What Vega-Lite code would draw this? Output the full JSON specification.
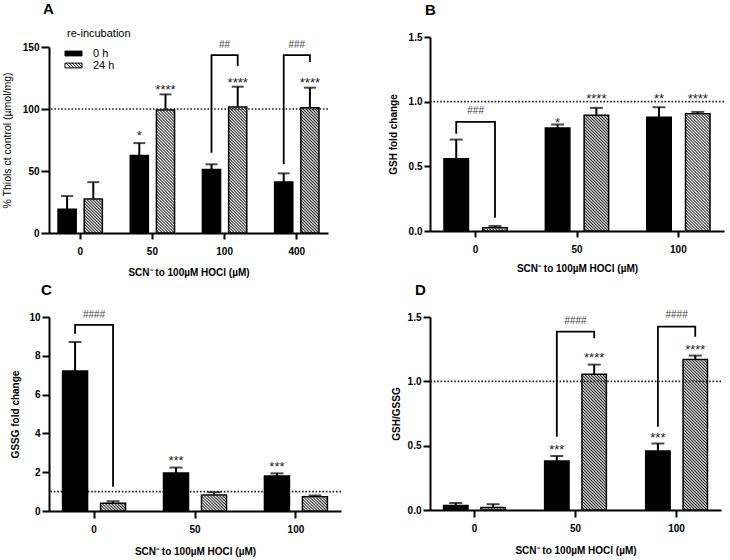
{
"$schema": "https://vega.github.io/schema/vega-lite/v6.json",
"background": "white",
"padding": {"left": 2, "top": 2, "right": 0, "bottom": 1},
"config": {
 "view": {"stroke": null},
 "font": "Liberation Sans",
 "axis": {"domainColor": "#000", "domainWidth": 2, "tickColor": "#000", "tickWidth": 2, "labelColor": "#000", "labelFont": "Liberation Sans", "labelFontWeight": "bold", "labelFontSize": 10, "titleFont": "Liberation Sans", "titleFontWeight": "bold", "titleFontSize": 10, "titleColor": "#000", "grid": false, "labelOverlap": false},
 "title": {"font": "Liberation Sans", "fontSize": 15, "fontWeight": "bold", "anchor": "start", "frame": "group", "color": "#000"},
 "bar": {"color": {"gradient": "linear", "x1": 0, "y1": 1, "x2": 0.178, "y2": -0.1295, "stops": [
{"offset":0,"color":"#222"},{"offset":0.0083,"color":"#fff"},{"offset":0.0167,"color":"#222"},{"offset":0.025,"color":"#fff"},{"offset":0.0333,"color":"#222"},{"offset":0.0417,"color":"#fff"},{"offset":0.05,"color":"#222"},{"offset":0.0583,"color":"#fff"},{"offset":0.0667,"color":"#222"},{"offset":0.075,"color":"#fff"},{"offset":0.0833,"color":"#222"},{"offset":0.0917,"color":"#fff"},
{"offset":0.1,"color":"#222"},{"offset":0.1083,"color":"#fff"},{"offset":0.1167,"color":"#222"},{"offset":0.125,"color":"#fff"},{"offset":0.1333,"color":"#222"},{"offset":0.1417,"color":"#fff"},{"offset":0.15,"color":"#222"},{"offset":0.1583,"color":"#fff"},{"offset":0.1667,"color":"#222"},{"offset":0.175,"color":"#fff"},{"offset":0.1833,"color":"#222"},{"offset":0.1917,"color":"#fff"},
{"offset":0.2,"color":"#222"},{"offset":0.2083,"color":"#fff"},{"offset":0.2167,"color":"#222"},{"offset":0.225,"color":"#fff"},{"offset":0.2333,"color":"#222"},{"offset":0.2417,"color":"#fff"},{"offset":0.25,"color":"#222"},{"offset":0.2583,"color":"#fff"},{"offset":0.2667,"color":"#222"},{"offset":0.275,"color":"#fff"},{"offset":0.2833,"color":"#222"},{"offset":0.2917,"color":"#fff"},
{"offset":0.3,"color":"#222"},{"offset":0.3083,"color":"#fff"},{"offset":0.3167,"color":"#222"},{"offset":0.325,"color":"#fff"},{"offset":0.3333,"color":"#222"},{"offset":0.3417,"color":"#fff"},{"offset":0.35,"color":"#222"},{"offset":0.3583,"color":"#fff"},{"offset":0.3667,"color":"#222"},{"offset":0.375,"color":"#fff"},{"offset":0.3833,"color":"#222"},{"offset":0.3917,"color":"#fff"},
{"offset":0.4,"color":"#222"},{"offset":0.4083,"color":"#fff"},{"offset":0.4167,"color":"#222"},{"offset":0.425,"color":"#fff"},{"offset":0.4333,"color":"#222"},{"offset":0.4417,"color":"#fff"},{"offset":0.45,"color":"#222"},{"offset":0.4583,"color":"#fff"},{"offset":0.4667,"color":"#222"},{"offset":0.475,"color":"#fff"},{"offset":0.4833,"color":"#222"},{"offset":0.4917,"color":"#fff"},
{"offset":0.5,"color":"#222"},{"offset":0.5083,"color":"#fff"},{"offset":0.5167,"color":"#222"},{"offset":0.525,"color":"#fff"},{"offset":0.5333,"color":"#222"},{"offset":0.5417,"color":"#fff"},{"offset":0.55,"color":"#222"},{"offset":0.5583,"color":"#fff"},{"offset":0.5667,"color":"#222"},{"offset":0.575,"color":"#fff"},{"offset":0.5833,"color":"#222"},{"offset":0.5917,"color":"#fff"},
{"offset":0.6,"color":"#222"},{"offset":0.6083,"color":"#fff"},{"offset":0.6167,"color":"#222"},{"offset":0.625,"color":"#fff"},{"offset":0.6333,"color":"#222"},{"offset":0.6417,"color":"#fff"},{"offset":0.65,"color":"#222"},{"offset":0.6583,"color":"#fff"},{"offset":0.6667,"color":"#222"},{"offset":0.675,"color":"#fff"},{"offset":0.6833,"color":"#222"},{"offset":0.6917,"color":"#fff"},
{"offset":0.7,"color":"#222"},{"offset":0.7083,"color":"#fff"},{"offset":0.7167,"color":"#222"},{"offset":0.725,"color":"#fff"},{"offset":0.7333,"color":"#222"},{"offset":0.7417,"color":"#fff"},{"offset":0.75,"color":"#222"},{"offset":0.7583,"color":"#fff"},{"offset":0.7667,"color":"#222"},{"offset":0.775,"color":"#fff"},{"offset":0.7833,"color":"#222"},{"offset":0.7917,"color":"#fff"},
{"offset":0.8,"color":"#222"},{"offset":0.8083,"color":"#fff"},{"offset":0.8167,"color":"#222"},{"offset":0.825,"color":"#fff"},{"offset":0.8333,"color":"#222"},{"offset":0.8417,"color":"#fff"},{"offset":0.85,"color":"#222"},{"offset":0.8583,"color":"#fff"},{"offset":0.8667,"color":"#222"},{"offset":0.875,"color":"#fff"},{"offset":0.8833,"color":"#222"},{"offset":0.8917,"color":"#fff"},
{"offset":0.9,"color":"#222"},{"offset":0.9083,"color":"#fff"},{"offset":0.9167,"color":"#222"},{"offset":0.925,"color":"#fff"},{"offset":0.9333,"color":"#222"},{"offset":0.9417,"color":"#fff"},{"offset":0.95,"color":"#222"},{"offset":0.9583,"color":"#fff"},{"offset":0.9667,"color":"#222"},{"offset":0.975,"color":"#fff"},{"offset":0.9833,"color":"#222"},{"offset":0.9917,"color":"#fff"},
{"offset":1,"color":"#222"}]}}
},
"columns": 2,
"bounds": "flush",
"spacing": {"row": 84, "column": 89},
"resolve": {"scale": {"x": "independent", "y": "independent", "xOffset": "independent", "fill": "independent"}},
"concat": [
{
 "width": 279, "height": 196,
 "title": {"text": "A", "dx": -6, "offset": 11},
 "data": {"values": [
  {"dose": "0", "group": "0 h", "mean": 19.1, "upper": 29.8},
  {"dose": "0", "group": "24 h", "mean": 27.5, "upper": 41},
  {"dose": "50", "group": "0 h", "mean": 62.5, "upper": 72.5},
  {"dose": "50", "group": "24 h", "mean": 99.2, "upper": 111.8},
  {"dose": "100", "group": "0 h", "mean": 51.3, "upper": 55.4},
  {"dose": "100", "group": "24 h", "mean": 101.6, "upper": 118},
  {"dose": "400", "group": "0 h", "mean": 41.1, "upper": 48.1},
  {"dose": "400", "group": "24 h", "mean": 101, "upper": 117.2}
 ]},
 "layer": [
  {"transform": [{"filter": "datum.group === '24 h'"}],
   "mark": {"type": "bar", "fill": {"gradient": "linear", "x1": 0, "y1": 1, "x2": 0.1228, "y2": -0.0981, "stops": [
{"offset":0,"color":"#222"},{"offset":0.0083,"color":"#fff"},{"offset":0.0167,"color":"#222"},{"offset":0.025,"color":"#fff"},{"offset":0.0333,"color":"#222"},{"offset":0.0417,"color":"#fff"},{"offset":0.05,"color":"#222"},{"offset":0.0583,"color":"#fff"},{"offset":0.0667,"color":"#222"},{"offset":0.075,"color":"#fff"},{"offset":0.0833,"color":"#222"},{"offset":0.0917,"color":"#fff"},
{"offset":0.1,"color":"#222"},{"offset":0.1083,"color":"#fff"},{"offset":0.1167,"color":"#222"},{"offset":0.125,"color":"#fff"},{"offset":0.1333,"color":"#222"},{"offset":0.1417,"color":"#fff"},{"offset":0.15,"color":"#222"},{"offset":0.1583,"color":"#fff"},{"offset":0.1667,"color":"#222"},{"offset":0.175,"color":"#fff"},{"offset":0.1833,"color":"#222"},{"offset":0.1917,"color":"#fff"},
{"offset":0.2,"color":"#222"},{"offset":0.2083,"color":"#fff"},{"offset":0.2167,"color":"#222"},{"offset":0.225,"color":"#fff"},{"offset":0.2333,"color":"#222"},{"offset":0.2417,"color":"#fff"},{"offset":0.25,"color":"#222"},{"offset":0.2583,"color":"#fff"},{"offset":0.2667,"color":"#222"},{"offset":0.275,"color":"#fff"},{"offset":0.2833,"color":"#222"},{"offset":0.2917,"color":"#fff"},
{"offset":0.3,"color":"#222"},{"offset":0.3083,"color":"#fff"},{"offset":0.3167,"color":"#222"},{"offset":0.325,"color":"#fff"},{"offset":0.3333,"color":"#222"},{"offset":0.3417,"color":"#fff"},{"offset":0.35,"color":"#222"},{"offset":0.3583,"color":"#fff"},{"offset":0.3667,"color":"#222"},{"offset":0.375,"color":"#fff"},{"offset":0.3833,"color":"#222"},{"offset":0.3917,"color":"#fff"},
{"offset":0.4,"color":"#222"},{"offset":0.4083,"color":"#fff"},{"offset":0.4167,"color":"#222"},{"offset":0.425,"color":"#fff"},{"offset":0.4333,"color":"#222"},{"offset":0.4417,"color":"#fff"},{"offset":0.45,"color":"#222"},{"offset":0.4583,"color":"#fff"},{"offset":0.4667,"color":"#222"},{"offset":0.475,"color":"#fff"},{"offset":0.4833,"color":"#222"},{"offset":0.4917,"color":"#fff"},
{"offset":0.5,"color":"#222"},{"offset":0.5083,"color":"#fff"},{"offset":0.5167,"color":"#222"},{"offset":0.525,"color":"#fff"},{"offset":0.5333,"color":"#222"},{"offset":0.5417,"color":"#fff"},{"offset":0.55,"color":"#222"},{"offset":0.5583,"color":"#fff"},{"offset":0.5667,"color":"#222"},{"offset":0.575,"color":"#fff"},{"offset":0.5833,"color":"#222"},{"offset":0.5917,"color":"#fff"},
{"offset":0.6,"color":"#222"},{"offset":0.6083,"color":"#fff"},{"offset":0.6167,"color":"#222"},{"offset":0.625,"color":"#fff"},{"offset":0.6333,"color":"#222"},{"offset":0.6417,"color":"#fff"},{"offset":0.65,"color":"#222"},{"offset":0.6583,"color":"#fff"},{"offset":0.6667,"color":"#222"},{"offset":0.675,"color":"#fff"},{"offset":0.6833,"color":"#222"},{"offset":0.6917,"color":"#fff"},
{"offset":0.7,"color":"#222"},{"offset":0.7083,"color":"#fff"},{"offset":0.7167,"color":"#222"},{"offset":0.725,"color":"#fff"},{"offset":0.7333,"color":"#222"},{"offset":0.7417,"color":"#fff"},{"offset":0.75,"color":"#222"},{"offset":0.7583,"color":"#fff"},{"offset":0.7667,"color":"#222"},{"offset":0.775,"color":"#fff"},{"offset":0.7833,"color":"#222"},{"offset":0.7917,"color":"#fff"},
{"offset":0.8,"color":"#222"},{"offset":0.8083,"color":"#fff"},{"offset":0.8167,"color":"#222"},{"offset":0.825,"color":"#fff"},{"offset":0.8333,"color":"#222"},{"offset":0.8417,"color":"#fff"},{"offset":0.85,"color":"#222"},{"offset":0.8583,"color":"#fff"},{"offset":0.8667,"color":"#222"},{"offset":0.875,"color":"#fff"},{"offset":0.8833,"color":"#222"},{"offset":0.8917,"color":"#fff"},
{"offset":0.9,"color":"#222"},{"offset":0.9083,"color":"#fff"},{"offset":0.9167,"color":"#222"},{"offset":0.925,"color":"#fff"},{"offset":0.9333,"color":"#222"},{"offset":0.9417,"color":"#fff"},{"offset":0.95,"color":"#222"},{"offset":0.9583,"color":"#fff"},{"offset":0.9667,"color":"#222"},{"offset":0.975,"color":"#fff"},{"offset":0.9833,"color":"#222"},{"offset":0.9917,"color":"#fff"},
{"offset":1,"color":"#222"}]}},
   "encoding": {
    "x": {"field": "dose", "type": "nominal", "scale": {"domain": ["0", "50", "100", "400"], "paddingInner": 0.386, "paddingOuter": 0.125}, "axis": {"title": "SCN⁻ to 100µM HOCl (µM)", "labelAngle": 0, "tickSize": 6, "labelPadding": 7, "titlePadding": 11}},
    "xOffset": {"field": "group", "type": "nominal", "scale": {"domain": ["0 h", "24 h"], "paddingInner": 0.3077, "paddingOuter": 0}},
    "y": {"datum": 0, "type": "quantitative", "scale": {"domain": [0, 150], "range": [196, 10], "nice": false}, "axis": {"title": "% Thiols ct control (µmol/mg)", "values": [0, 50, 100, 150], "labelOverlap": false, "tickSize": 8, "labelPadding": 2, "titlePadding": 10, "titleFontWeight": "normal", "titleFontSize": 10.5}},
    "y2": {"datum": 130.6}
   }},
  {"transform": [{"filter": "datum.group === '24 h'"}],
   "mark": {"type": "bar", "fill": "#fff", "stroke": "#fff", "strokeWidth": 1.5},
   "encoding": {
    "x": {"field": "dose", "type": "nominal"},
    "xOffset": {"field": "group", "type": "nominal"},
    "y": {"field": "mean", "type": "quantitative"},
    "y2": {"datum": 130.6}
   }},
  {"data": {"values": [{}]},
   "mark": {"type": "rule", "strokeDash": [1.6, 1.8], "strokeWidth": 1.6, "color": "#222"},
   "encoding": {"y": {"datum": 100}}},
  {"mark": {"type": "bar", "stroke": "#000", "strokeWidth": 1.5},
   "encoding": {
    "x": {"field": "dose", "type": "nominal"},
    "xOffset": {"field": "group", "type": "nominal"},
    "y": {"field": "mean", "type": "quantitative"},
    "fill": {"field": "group", "type": "nominal", "scale": {"domain": ["0 h", "24 h"], "range": ["#000", "#fff"]},
      "legend": {"title": "re-incubation", "orient": "none", "legendX": 18, "legendY": -9, "titleFont": "Liberation Sans", "titleFontWeight": "normal", "titleFontSize": 11, "titleColor": "#000", "titlePadding": 8, "labelFont": "Liberation Sans", "labelFontSize": 11, "labelColor": "#000", "symbolType": "M-1.42,-0.4H1.42V0.4H-1.42Z M-1.2,-0.4L-0.4,0.4 M-0.7,-0.4L0.1,0.4 M-0.2,-0.4L0.6,0.4 M0.3,-0.4L1.1,0.4 M0.8,-0.4L1.42,0.22", "symbolSize": 144, "symbolStrokeColor": "#000", "symbolStrokeWidth": 1, "symbolOffset": 0, "labelOffset": 13, "rowPadding": -2}},
    "fillOpacity": {"condition": {"test": "datum.group === '24 h'", "value": 0}, "value": 1}
   }},
  {"mark": {"type": "rule", "color": "#000", "strokeWidth": 2},
   "encoding": {
    "x": {"field": "dose", "type": "nominal"},
    "xOffset": {"field": "group", "type": "nominal"},
    "y": {"field": "mean", "type": "quantitative"},
    "y2": {"field": "upper"}
   }},
  {"mark": {"type": "tick", "color": "#000", "size": 12, "thickness": 2},
   "encoding": {
    "x": {"field": "dose", "type": "nominal"},
    "xOffset": {"field": "group", "type": "nominal"},
    "y": {"field": "upper", "type": "quantitative"}
   }},
  {"data": {"values": [
    {"dose": "50", "group": "0 h", "y": 80.9, "label": "*"},
    {"dose": "50", "group": "24 h", "y": 118.5, "label": "****"},
    {"dose": "100", "group": "24 h", "y": 124, "label": "****"},
    {"dose": "400", "group": "24 h", "y": 123.4, "label": "****"}
   ]},
   "mark": {"type": "text", "fontSize": 13, "dy": 7.5, "baseline": "alphabetic", "color": "#222"},
   "encoding": {
    "x": {"field": "dose", "type": "nominal"},
    "xOffset": {"field": "group", "type": "nominal"},
    "y": {"field": "y", "type": "quantitative"},
    "text": {"field": "label"}
   }},
  {"data": {"values": [
    {"id": "a100", "dose": "100", "group": "0 h", "y": 64.8, "ord": 1},
    {"id": "a100", "dose": "100", "group": "0 h", "y": 143.5, "ord": 2},
    {"id": "a100", "dose": "100", "group": "24 h", "y": 143.5, "ord": 3},
    {"id": "a100", "dose": "100", "group": "24 h", "y": 134.7, "ord": 4},
    {"id": "a400", "dose": "400", "group": "0 h", "y": 55.4, "ord": 1},
    {"id": "a400", "dose": "400", "group": "0 h", "y": 143.5, "ord": 2},
    {"id": "a400", "dose": "400", "group": "24 h", "y": 143.5, "ord": 3},
    {"id": "a400", "dose": "400", "group": "24 h", "y": 137.9, "ord": 4}
   ]},
   "mark": {"type": "line", "color": "#000", "strokeWidth": 1.8},
   "encoding": {
    "x": {"field": "dose", "type": "nominal"},
    "xOffset": {"field": "group", "type": "nominal"},
    "y": {"field": "y", "type": "quantitative"},
    "detail": {"field": "id"},
    "order": {"field": "ord"}
   }},
  {"data": {"values": [
    {"dose": "100", "y": 151.6, "label": "##"},
    {"dose": "400", "y": 152, "label": "###"}
   ]},
   "mark": {"type": "text", "fontSize": 10, "baseline": "middle", "color": "#444"},
   "encoding": {
    "x": {"field": "dose", "type": "nominal"},
    "y": {"field": "y", "type": "quantitative"},
    "text": {"field": "label"}
   }}
 ]
},
{
 "width": 294, "height": 194,
 "title": {"text": "B", "dx": -5, "offset": 14},
 "data": {"values": [
  {"dose": "0", "group": "0 h", "mean": 0.558, "upper": 0.707},
  {"dose": "0", "group": "24 h", "mean": 0.026, "upper": 0.039},
  {"dose": "50", "group": "0 h", "mean": 0.797, "upper": 0.823},
  {"dose": "50", "group": "24 h", "mean": 0.895, "upper": 0.952},
  {"dose": "100", "group": "0 h", "mean": 0.88, "upper": 0.957},
  {"dose": "100", "group": "24 h", "mean": 0.906, "upper": 0.921}
 ]},
 "layer": [
  {"transform": [{"filter": "datum.group === '24 h'"}],
   "mark": {"type": "bar"},
   "encoding": {
    "x": {"field": "dose", "type": "nominal", "scale": {"domain": ["0", "50", "100"], "paddingInner": 0.376, "paddingOuter": 0.138}, "axis": {"title": "SCN⁻ to 100µM HOCl (µM)", "labelAngle": 0, "tickSize": 6, "labelPadding": 7, "titlePadding": 9}},
    "xOffset": {"field": "group", "type": "nominal", "scale": {"domain": ["0 h", "24 h"], "paddingInner": 0.368, "paddingOuter": 0}},
    "y": {"datum": 0, "type": "quantitative", "scale": {"domain": [0, 1.5], "nice": false}, "axis": {"title": "GSH fold change", "values": [0, 0.5, 1, 1.5], "format": ".1f", "labelOverlap": false, "tickSize": 6, "labelPadding": 2, "titlePadding": 10}},
    "y2": {"datum": 1.2023}
   }},
  {"transform": [{"filter": "datum.group === '24 h'"}],
   "mark": {"type": "bar", "fill": "#fff", "stroke": "#fff", "strokeWidth": 1.5},
   "encoding": {
    "x": {"field": "dose", "type": "nominal"},
    "xOffset": {"field": "group", "type": "nominal"},
    "y": {"field": "mean", "type": "quantitative"},
    "y2": {"datum": 1.2023}
   }},
  {"data": {"values": [{}]},
   "mark": {"type": "rule", "strokeDash": [1.6, 1.8], "strokeWidth": 1.6, "color": "#222"},
   "encoding": {"y": {"datum": 1}}},
  {"mark": {"type": "bar", "stroke": "#000", "strokeWidth": 1.5},
   "encoding": {
    "x": {"field": "dose", "type": "nominal"},
    "xOffset": {"field": "group", "type": "nominal"},
    "y": {"field": "mean", "type": "quantitative"},
    "fill": {"field": "group", "type": "nominal", "scale": {"domain": ["0 h", "24 h"], "range": ["#000", "#fff"]}, "legend": null},
    "fillOpacity": {"condition": {"test": "datum.group === '24 h'", "value": 0}, "value": 1}
   }},
  {"mark": {"type": "rule", "color": "#000", "strokeWidth": 2},
   "encoding": {
    "x": {"field": "dose", "type": "nominal"},
    "xOffset": {"field": "group", "type": "nominal"},
    "y": {"field": "mean", "type": "quantitative"},
    "y2": {"field": "upper"}
   }},
  {"mark": {"type": "tick", "color": "#000", "size": 13, "thickness": 2},
   "encoding": {
    "x": {"field": "dose", "type": "nominal"},
    "xOffset": {"field": "group", "type": "nominal"},
    "y": {"field": "upper", "type": "quantitative"}
   }},
  {"data": {"values": [
    {"dose": "50", "group": "0 h", "y": 0.864, "label": "*"},
    {"dose": "50", "group": "24 h", "y": 1.044, "label": "****"},
    {"dose": "100", "group": "0 h", "y": 1.044, "label": "**"},
    {"dose": "100", "group": "24 h", "y": 1.044, "label": "****"}
   ]},
   "mark": {"type": "text", "fontSize": 13, "dy": 7.5, "baseline": "alphabetic", "color": "#222"},
   "encoding": {
    "x": {"field": "dose", "type": "nominal"},
    "xOffset": {"field": "group", "type": "nominal"},
    "y": {"field": "y", "type": "quantitative"},
    "text": {"field": "label"}
   }},
  {"data": {"values": [
    {"id": "b0", "dose": "0", "group": "0 h", "y": 0.752, "ord": 1},
    {"id": "b0", "dose": "0", "group": "0 h", "y": 0.843, "ord": 2},
    {"id": "b0", "dose": "0", "group": "24 h", "y": 0.843, "ord": 3},
    {"id": "b0", "dose": "0", "group": "24 h", "y": 0.103, "ord": 4}
   ]},
   "mark": {"type": "line", "color": "#000", "strokeWidth": 1.8},
   "encoding": {
    "x": {"field": "dose", "type": "nominal"},
    "xOffset": {"field": "group", "type": "nominal"},
    "y": {"field": "y", "type": "quantitative"},
    "detail": {"field": "id"},
    "order": {"field": "ord"}
   }},
  {"data": {"values": [
    {"dose": "0", "y": 0.93, "label": "###"}
   ]},
   "mark": {"type": "text", "fontSize": 10, "baseline": "middle", "color": "#444"},
   "encoding": {
    "x": {"field": "dose", "type": "nominal"},
    "y": {"field": "y", "type": "quantitative"},
    "text": {"field": "label"}
   }}
 ]
},
{
 "width": 292, "height": 194,
 "title": {"text": "C", "dx": -8, "offset": 12},
 "data": {"values": [
  {"dose": "0", "group": "0 h", "mean": 7.22, "upper": 8.71},
  {"dose": "0", "group": "24 h", "mean": 0.4, "upper": 0.5},
  {"dose": "50", "group": "0 h", "mean": 1.96, "upper": 2.24},
  {"dose": "50", "group": "24 h", "mean": 0.83, "upper": 0.97},
  {"dose": "100", "group": "0 h", "mean": 1.8, "upper": 1.94},
  {"dose": "100", "group": "24 h", "mean": 0.74, "upper": 0.8}
 ]},
 "layer": [
  {"transform": [{"filter": "datum.group === '24 h'"}],
   "mark": {"type": "bar"},
   "encoding": {
    "x": {"field": "dose", "type": "nominal", "scale": {"domain": ["0", "50", "100"], "paddingInner": 0.376, "paddingOuter": 0.1345}, "axis": {"title": "SCN⁻ to 100µM HOCl (µM)", "labelAngle": 0, "tickSize": 7, "labelPadding": 6, "titlePadding": 12}},
    "xOffset": {"field": "group", "type": "nominal", "scale": {"domain": ["0 h", "24 h"], "paddingInner": 0.342, "paddingOuter": 0}},
    "y": {"datum": 0, "type": "quantitative", "scale": {"domain": [0, 10], "nice": false}, "axis": {"title": "GSSG fold change", "tickCount": 5, "labelOverlap": false, "labelFlush": false, "labelBound": false, "tickSize": 7, "labelPadding": 2, "titlePadding": 8}},
    "y2": {"datum": 7.99}
   }},
  {"transform": [{"filter": "datum.group === '24 h'"}],
   "mark": {"type": "bar", "fill": "#fff", "stroke": "#fff", "strokeWidth": 1.5},
   "encoding": {
    "x": {"field": "dose", "type": "nominal"},
    "xOffset": {"field": "group", "type": "nominal"},
    "y": {"field": "mean", "type": "quantitative"},
    "y2": {"datum": 7.99}
   }},
  {"data": {"values": [{}]},
   "mark": {"type": "rule", "strokeDash": [1.6, 1.8], "strokeWidth": 1.6, "color": "#222"},
   "encoding": {"y": {"datum": 1}}},
  {"mark": {"type": "bar", "stroke": "#000", "strokeWidth": 1.5},
   "encoding": {
    "x": {"field": "dose", "type": "nominal"},
    "xOffset": {"field": "group", "type": "nominal"},
    "y": {"field": "mean", "type": "quantitative"},
    "fill": {"field": "group", "type": "nominal", "scale": {"domain": ["0 h", "24 h"], "range": ["#000", "#fff"]}, "legend": null},
    "fillOpacity": {"condition": {"test": "datum.group === '24 h'", "value": 0}, "value": 1}
   }},
  {"mark": {"type": "rule", "color": "#000", "strokeWidth": 2},
   "encoding": {
    "x": {"field": "dose", "type": "nominal"},
    "xOffset": {"field": "group", "type": "nominal"},
    "y": {"field": "mean", "type": "quantitative"},
    "y2": {"field": "upper"}
   }},
  {"mark": {"type": "tick", "color": "#000", "size": 13, "thickness": 2},
   "encoding": {
    "x": {"field": "dose", "type": "nominal"},
    "xOffset": {"field": "group", "type": "nominal"},
    "y": {"field": "upper", "type": "quantitative"}
   }},
  {"data": {"values": [
    {"dose": "50", "group": "0 h", "y": 2.75, "label": "***"},
    {"dose": "100", "group": "0 h", "y": 2.44, "label": "***"}
   ]},
   "mark": {"type": "text", "fontSize": 13, "dy": 7.5, "baseline": "alphabetic", "color": "#222"},
   "encoding": {
    "x": {"field": "dose", "type": "nominal"},
    "xOffset": {"field": "group", "type": "nominal"},
    "y": {"field": "y", "type": "quantitative"},
    "text": {"field": "label"}
   }},
  {"data": {"values": [
    {"id": "c0", "dose": "0", "group": "0 h", "y": 9.14, "ord": 1},
    {"id": "c0", "dose": "0", "group": "0 h", "y": 9.59, "ord": 2},
    {"id": "c0", "dose": "0", "group": "24 h", "y": 9.59, "ord": 3},
    {"id": "c0", "dose": "0", "group": "24 h", "y": 1.25, "ord": 4}
   ]},
   "mark": {"type": "line", "color": "#000", "strokeWidth": 1.8},
   "encoding": {
    "x": {"field": "dose", "type": "nominal"},
    "xOffset": {"field": "group", "type": "nominal"},
    "y": {"field": "y", "type": "quantitative"},
    "detail": {"field": "id"},
    "order": {"field": "ord"}
   }},
  {"data": {"values": [
    {"dose": "0", "y": 10.1, "label": "####"}
   ]},
   "mark": {"type": "text", "fontSize": 10, "baseline": "middle", "color": "#444"},
   "encoding": {
    "x": {"field": "dose", "type": "nominal"},
    "y": {"field": "y", "type": "quantitative"},
    "text": {"field": "label"}
   }}
 ]
},
{
 "width": 291, "height": 193,
 "title": {"text": "D", "dx": -15, "offset": 12},
 "data": {"values": [
  {"dose": "0", "group": "0 h", "mean": 0.035, "upper": 0.055},
  {"dose": "0", "group": "24 h", "mean": 0.02, "upper": 0.045},
  {"dose": "50", "group": "0 h", "mean": 0.38, "upper": 0.42},
  {"dose": "50", "group": "24 h", "mean": 1.055, "upper": 1.13},
  {"dose": "100", "group": "0 h", "mean": 0.458, "upper": 0.517},
  {"dose": "100", "group": "24 h", "mean": 1.17, "upper": 1.2}
 ]},
 "layer": [
  {"transform": [{"filter": "datum.group === '24 h'"}],
   "mark": {"type": "bar"},
   "encoding": {
    "x": {"field": "dose", "type": "nominal", "scale": {"domain": ["0", "50", "100"], "paddingInner": 0.389, "paddingOuter": 0.134}, "axis": {"title": "SCN⁻ to 100µM HOCl (µM)", "labelAngle": 0, "tickSize": 7, "labelPadding": 6, "titlePadding": 12}},
    "xOffset": {"field": "group", "type": "nominal", "scale": {"domain": ["0 h", "24 h"], "paddingInner": 0.347, "paddingOuter": 0}},
    "y": {"datum": 0, "type": "quantitative", "scale": {"domain": [0, 1.5], "nice": false}, "axis": {"title": "GSH/GSSG", "values": [0, 0.5, 1, 1.5], "format": ".1f", "labelOverlap": false, "tickSize": 7, "labelPadding": 2, "titlePadding": 6}},
    "y2": {"datum": 1.21}
   }},
  {"transform": [{"filter": "datum.group === '24 h'"}],
   "mark": {"type": "bar", "fill": "#fff", "stroke": "#fff", "strokeWidth": 1.5},
   "encoding": {
    "x": {"field": "dose", "type": "nominal"},
    "xOffset": {"field": "group", "type": "nominal"},
    "y": {"field": "mean", "type": "quantitative"},
    "y2": {"datum": 1.21}
   }},
  {"data": {"values": [{}]},
   "mark": {"type": "rule", "strokeDash": [1.6, 1.8], "strokeWidth": 1.6, "color": "#222"},
   "encoding": {"y": {"datum": 1}}},
  {"mark": {"type": "bar", "stroke": "#000", "strokeWidth": 1.5},
   "encoding": {
    "x": {"field": "dose", "type": "nominal"},
    "xOffset": {"field": "group", "type": "nominal"},
    "y": {"field": "mean", "type": "quantitative"},
    "fill": {"field": "group", "type": "nominal", "scale": {"domain": ["0 h", "24 h"], "range": ["#000", "#fff"]}, "legend": null},
    "fillOpacity": {"condition": {"test": "datum.group === '24 h'", "value": 0}, "value": 1}
   }},
  {"mark": {"type": "rule", "color": "#000", "strokeWidth": 2},
   "encoding": {
    "x": {"field": "dose", "type": "nominal"},
    "xOffset": {"field": "group", "type": "nominal"},
    "y": {"field": "mean", "type": "quantitative"},
    "y2": {"field": "upper"}
   }},
  {"mark": {"type": "tick", "color": "#000", "size": 13, "thickness": 2},
   "encoding": {
    "x": {"field": "dose", "type": "nominal"},
    "xOffset": {"field": "group", "type": "nominal"},
    "y": {"field": "upper", "type": "quantitative"}
   }},
  {"data": {"values": [
    {"dose": "50", "group": "0 h", "y": 0.49, "label": "***"},
    {"dose": "50", "group": "24 h", "y": 1.205, "label": "****"},
    {"dose": "100", "group": "0 h", "y": 0.59, "label": "***"},
    {"dose": "100", "group": "24 h", "y": 1.27, "label": "****"}
   ]},
   "mark": {"type": "text", "fontSize": 13, "dy": 7.5, "baseline": "alphabetic", "color": "#222"},
   "encoding": {
    "x": {"field": "dose", "type": "nominal"},
    "xOffset": {"field": "group", "type": "nominal"},
    "y": {"field": "y", "type": "quantitative"},
    "text": {"field": "label"}
   }},
  {"data": {"values": [
    {"id": "d50", "dose": "50", "group": "0 h", "y": 0.57, "ord": 1},
    {"id": "d50", "dose": "50", "group": "0 h", "y": 1.386, "ord": 2},
    {"id": "d50", "dose": "50", "group": "24 h", "y": 1.386, "ord": 3},
    {"id": "d50", "dose": "50", "group": "24 h", "y": 1.334, "ord": 4},
    {"id": "d100", "dose": "100", "group": "0 h", "y": 0.647, "ord": 1},
    {"id": "d100", "dose": "100", "group": "0 h", "y": 1.425, "ord": 2},
    {"id": "d100", "dose": "100", "group": "24 h", "y": 1.425, "ord": 3},
    {"id": "d100", "dose": "100", "group": "24 h", "y": 1.347, "ord": 4}
   ]},
   "mark": {"type": "line", "color": "#000", "strokeWidth": 1.8},
   "encoding": {
    "x": {"field": "dose", "type": "nominal"},
    "xOffset": {"field": "group", "type": "nominal"},
    "y": {"field": "y", "type": "quantitative"},
    "detail": {"field": "id"},
    "order": {"field": "ord"}
   }},
  {"data": {"values": [
    {"dose": "50", "y": 1.47, "label": "####"},
    {"dose": "100", "y": 1.515, "label": "####"}
   ]},
   "mark": {"type": "text", "fontSize": 10, "baseline": "middle", "color": "#444"},
   "encoding": {
    "x": {"field": "dose", "type": "nominal"},
    "y": {"field": "y", "type": "quantitative"},
    "text": {"field": "label"}
   }}
 ]
}
]
}
